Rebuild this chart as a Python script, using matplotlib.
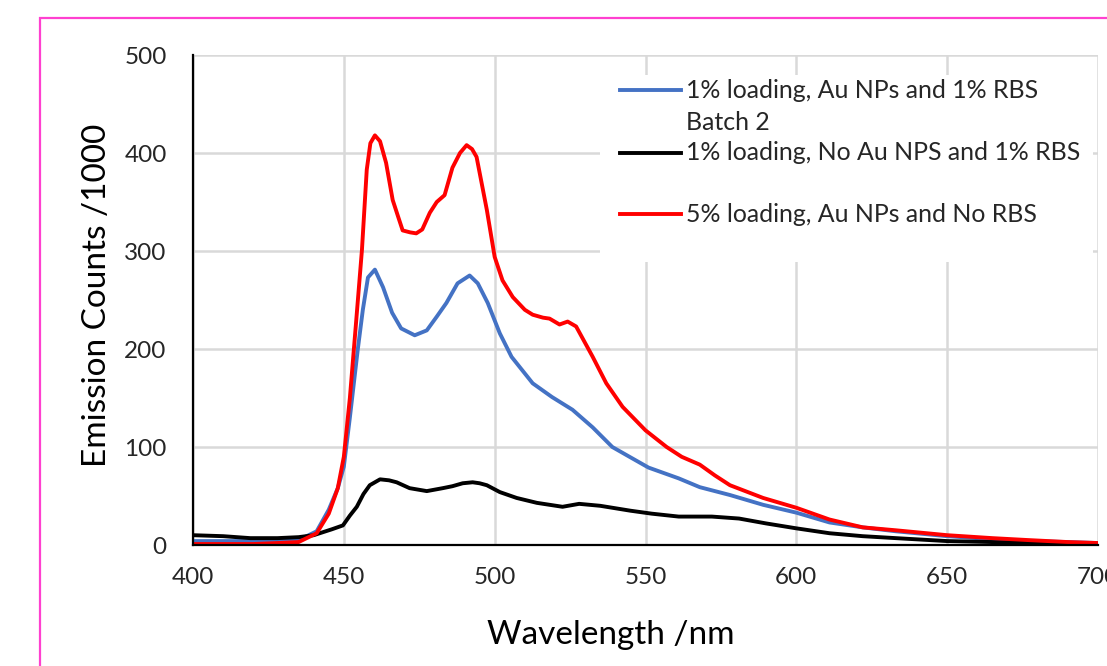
import matplotlib
matplotlib.use("Agg")
import matplotlib.pyplot as plt
from matplotlib.patches import Rectangle

# emission spectra (counts / 1000)
wl_blue = [400, 410, 420, 428, 435, 441, 445, 448, 450, 452, 454.6, 456.3, 458, 460.3, 463, 466, 469,
           473.5, 477.5, 480.8, 484, 487.7, 491.7, 494.4, 497.7, 501.7, 505.6, 512.6, 519, 525.8,
           532.5, 539, 544.7, 551, 561, 568, 578, 589, 600, 611, 622, 633, 650, 665, 677, 690, 700]
blue = [4, 4, 4, 4, 5, 14, 36, 58, 80, 130, 199, 240, 273, 281, 263, 237, 221,
        214, 219, 233, 247, 267, 275, 267, 247, 216, 192, 165, 151, 138,
        120, 100, 90, 79, 68, 59, 51, 41, 33, 23, 18, 14, 9, 6, 4, 3, 2]

wl_black = [400, 410, 419, 428, 435, 440, 443, 446, 449.7, 452, 454.3, 456.5, 458.6, 462, 465,
            467.5, 471.8, 477.5, 482.8, 486, 489.4, 492.7, 495, 497.4, 501.7, 507.3, 514, 522.5,
            528, 535, 545, 552, 561, 572, 581, 590, 600, 611, 622, 633, 650, 665, 680, 700]
black = [10, 9, 7, 7, 8, 10, 13, 16, 20, 30, 39, 52, 61, 67, 66,
         64, 58, 55, 58, 60, 63, 64, 63, 61, 54, 48, 43, 39,
         42, 40, 35, 32, 29, 29, 27, 22, 17, 12, 9, 7, 4, 3, 2, 1]

wl_red = [400, 410, 420, 428, 435, 441, 445, 448, 450, 452, 454, 456, 457.6, 458.8, 460.3, 462, 464,
          466.2, 468, 469.5, 472, 474, 476, 478.5, 480.8, 483.4, 486, 488.5, 490.7, 492.5, 494,
          497.4, 500, 502.6, 506, 510, 512.6, 516, 518.2, 521.5, 524.2, 527, 532.5, 537, 542.4,
          550, 557, 562, 568, 573, 578, 589, 600, 611, 622, 633, 650, 665, 677, 690, 700]
red = [1, 1, 1, 2, 3, 12, 32, 58, 90, 150, 225, 301, 383, 410, 418, 412, 390,
       352, 335, 321, 319, 318, 322, 339, 350, 357, 385, 400, 408, 404, 396,
       342, 294, 270, 253, 240, 235, 232, 231, 225, 228, 223, 192, 165, 141,
       117, 100, 90, 82, 71, 61, 48, 38, 26, 18, 15, 10, 7, 5, 3, 2]

labels = ["1% loading, Au NPs and 1% RBS", "1% loading, No Au NPS and 1% RBS",
          "5% loading, Au NPs and No RBS"]
colors = ["#4472C4", "#000000", "#FF0000"]

plt.rcParams['font.family'] = ['Lato', 'DejaVu Sans']

fig = plt.figure(figsize=(11.07, 6.66), dpi=100)
ax = fig.add_axes([193 / 1107, 1 - 545 / 666, 905 / 1107, 490 / 666])

for x, y, c in zip([wl_blue, wl_black, wl_red], [blue, black, red], colors):
    ax.plot(x, y, color=c, lw=2.8, solid_capstyle='round', solid_joinstyle='round', zorder=3)

ax.set_xlim(400, 700)
ax.set_ylim(0, 500)
ax.set_xticks(range(400, 701, 50))
ax.set_yticks(range(0, 501, 100))
ax.grid(True, color='#D9D9D9', lw=1.8, zorder=0)
ax.set_axisbelow(True)
for s in ['top', 'right']:
    ax.spines[s].set_visible(False)
for s in ['left', 'bottom']:
    ax.spines[s].set_linewidth(1.6)
    ax.spines[s].set_zorder(4)
ax.tick_params(length=0, labelsize=17.5, colors='#262626')
ax.tick_params(axis='y', pad=19)
ax.tick_params(axis='x', pad=16)

ax.set_xlabel("Wavelength /nm", fontsize=24)
ax.set_ylabel("Emission Counts /1000", fontsize=24)
ax.xaxis.label.set_va('center')
ax.yaxis.label.set_va('center')
ax.xaxis.set_label_coords(0.462, -0.184)
ax.yaxis.set_label_coords(-0.106, 0.51)


def fx(px):
    return (px - 193) / 905


def fy(py):
    return (545 - py) / 490


# legend box, drawn like the spreadsheet one
ax.add_patch(Rectangle((fx(600), fy(262)), fx(1093) - fx(600), fy(75) - fy(262),
                       transform=ax.transAxes, facecolor='white', edgecolor='none', zorder=2))
for py, lab, c in zip([90, 153, 214], labels, colors):
    ax.plot([fx(620), fx(681)], [fy(py), fy(py)], transform=ax.transAxes, color=c, lw=2.8, zorder=3)
    ax.text(fx(686), fy(py), lab, transform=ax.transAxes, fontsize=17.9, va='center', ha='left',
            color='#262626', zorder=3)
ax.text(fx(686), fy(122), "Batch 2", transform=ax.transAxes, fontsize=17.9, va='center', ha='left',
        color='#262626', zorder=3)

# chart-area border, cut off on the right and bottom
fig.patches.append(Rectangle((40 / 1107, -0.2), 1.2, 1.2 - 18 / 666, transform=fig.transFigure,
                             fill=False, edgecolor='#FF40D0', lw=1.6))

fig.savefig("out.png", dpi=100)
